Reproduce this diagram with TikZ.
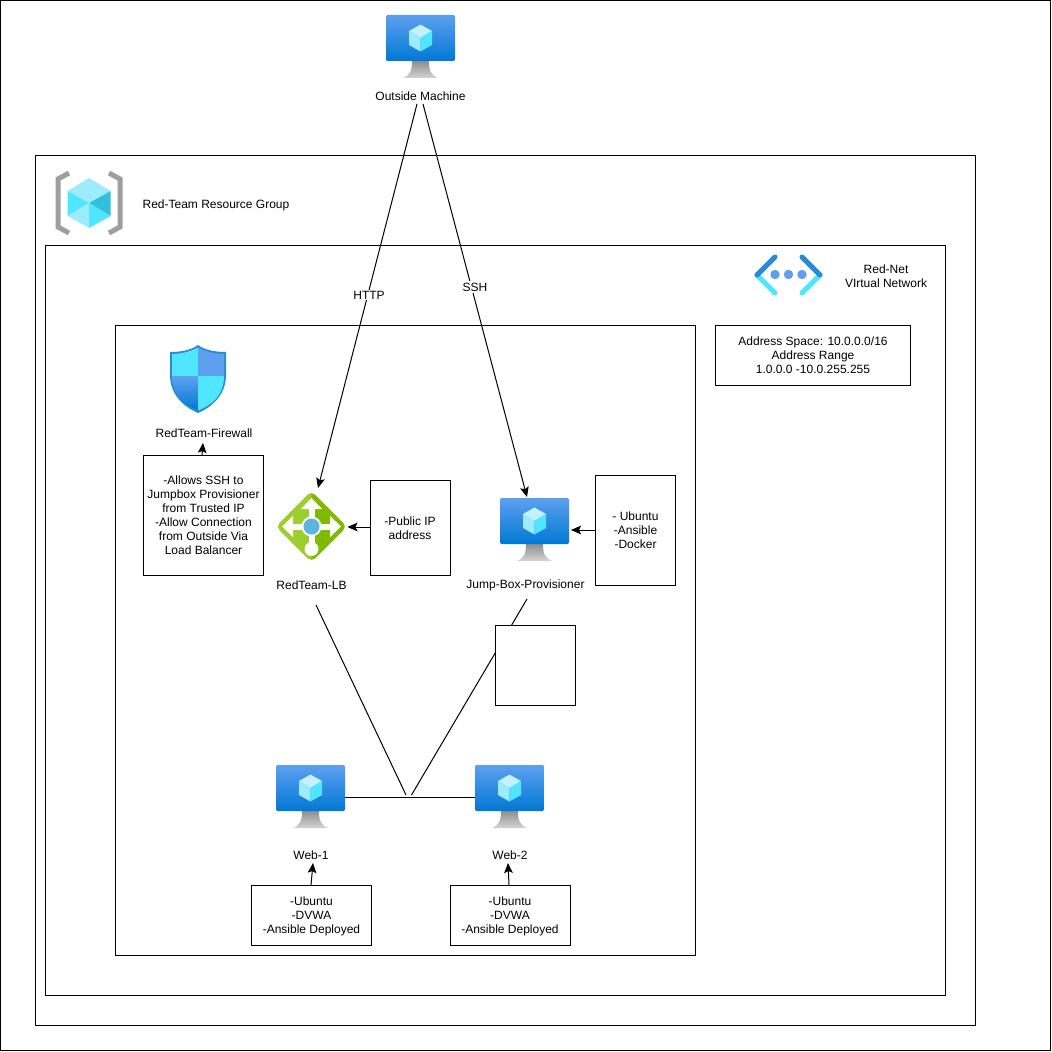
\documentclass[tikz,border=0pt]{standalone}
\usepackage{fontspec}
\setmainfont{Liberation Sans}
\usetikzlibrary{arrows.meta}
\definecolor{azA}{HTML}{5EA0EF}
\definecolor{azB}{HTML}{0078D4}
\definecolor{cubeA}{HTML}{C3F1FF}
\definecolor{cubeB}{HTML}{9CEBFF}
\definecolor{cubeC}{HTML}{50E6FF}
\definecolor{cubeD}{HTML}{32BEDD}
\definecolor{standA}{HTML}{8E8E8E}
\definecolor{standB}{HTML}{D4D4D4}
\definecolor{lbA}{HTML}{9BCF2E}
\definecolor{lbB}{HTML}{7FBA00}
\definecolor{lbC}{HTML}{5BB5DC}
\newcommand{\nudged}[2]{\raisebox{-#1}[\height][\depth]{\begin{tabular}{@{}c@{}}#2\end{tabular}}}
\tikzset{
  x=0.75pt,y=-0.75pt,
  every node/.style={font=\fontsize{9}{10.5}\selectfont,align=center,inner sep=0pt,outer sep=0pt},
  frame/.style={draw=black,fill=white,line width=0.75pt,anchor=north west,minimum width=0pt},
  link/.style={draw=black,line width=0.75pt},
  arrow/.style={link,-{Stealth[length=7.5pt,width=6.5pt,inset=1.5pt]}},
  edgelabel/.style={fill=white,inner xsep=0.5pt,inner ysep=1pt},
  iconbox/.style={minimum width=52pt,minimum height=47pt,anchor=north west},
  pics/monitor/.style={code={
    \shade[top color=standA,bottom color=standB] (26,46) .. controls (26,56) and (24,60) .. (17,63) -- (52,63) .. controls (45,60) and (43,56) .. (43,46) -- cycle;
    \shade[top color=azA,bottom color=azB,rounded corners=1pt] (0,0) rectangle (69,46);
    \fill[cubeA] (34.5,9.5) -- (46,16) -- (34.5,23) -- (23,16) -- cycle;
    \fill[cubeB] (23,16) -- (34.5,23) -- (34.5,36.5) -- (23,30) -- cycle;
    \fill[cubeC] (46,16) -- (34.5,23) -- (34.5,36.5) -- (46,30) -- cycle;
  }},
}
\begin{document}
\begin{tikzpicture}
\useasboundingbox (0,0) rectangle (1052,1052);
\fill[white] (0,0) rectangle (1052,1052);

% frames
\draw[link] (0.5,0.5) rectangle (1050.5,1050.5);
\node[frame,minimum width=705pt,minimum height=652.5pt] (group) at (35.5,155.5) {};
\node[frame,minimum width=675pt,minimum height=562.5pt] (vnet) at (45.5,245.5) {};
\node[frame,minimum width=435pt,minimum height=472.5pt] (subnet) at (115.5,325.5) {};
\node[frame,minimum width=146.25pt,minimum height=45pt] (addr) at (715.5,325.5) {Address Space: 10.0.0.0/16\\Address Range\\1.0.0.0 -10.0.255.255};

% resource group icon
\begin{scope}[shift={(55,171)}]
  \draw[color=black!38,line width=3.75pt] (14,2) -- (3,8) -- (3,56) -- (14,62);
  \draw[color=black!38,line width=3.75pt] (54,2) -- (65,8) -- (65,56) -- (54,62);
  \fill[cubeB] (34,7) -- (55.7,20) -- (34,32) -- (12.7,20) -- cycle;
  \fill[cubeC] (12.7,20) -- (34,32) -- (12.7,45) -- cycle;
  \fill[cubeD] (55.7,20) -- (34,32) -- (55.7,45) -- cycle;
  \fill[cubeB] (12.7,45) -- (34,32) -- (34,57) -- cycle;
  \fill[cubeC] (55.7,45) -- (34,32) -- (34,57) -- cycle;
\end{scope}
\node (grouplabel) at (216,205) {Red-Team Resource Group};

% virtual network icon
\begin{scope}[shift={(755,255)}]
  \draw[color=cubeC,line width=3.75pt,line cap=round] (2,20) -- (20,38);
  \draw[color=azB!85!white,line width=3.75pt,line cap=round] (2,20) -- (20,2);
  \draw[color=cubeC,line width=3.75pt,line cap=round] (65,20) -- (47,38);
  \draw[color=azB!85!white,line width=3.75pt,line cap=round] (65,20) -- (47,2);
  \fill[azA] (20,19.5) circle (4.7) (33.5,19.5) circle (4.7) (47,19.5) circle (4.7);
\end{scope}
\node (vnetlabel) at (886,276) {Red-Net\\VIrtual Network};

% firewall icon
\begin{scope}[shift={(170,345)}]
  \path[fill=azB!85!white] (0,7) .. controls (8,7) and (20,6) .. (28,0) .. controls (36,6) and (48,7) .. (56,7) -- (56,30) .. controls (56,50) and (42,62) .. (28,68) .. controls (14,62) and (0,50) .. (0,30) -- cycle;
  \fill[cubeC] (2,9) .. controls (10,9) and (20,7) .. (28,2.5) -- (28,31) -- (2,31) -- cycle;
  \fill[azA] (28,2.5) .. controls (36,7) and (46,9) .. (54,9) -- (54,31) -- (28,31) -- cycle;
  \shade[top color=azA,bottom color=azB] (2,31) -- (28,31) -- (28,65.5) .. controls (14,60) and (2,50) .. (2,31) -- cycle;
  \fill[cubeC] (28,31) -- (54,31) .. controls (54,50) and (42,60) .. (28,65.5) -- cycle;
\end{scope}
\node (fwlabel) at (204,433) {RedTeam-Firewall};
\node[frame,minimum width=90pt,minimum height=90pt] (fwbox) at (143.5,455.5) {\nudged{0.9pt}{-Allows SSH to\\Jumpbox Provisioner\\from Trusted IP\\-Allow Connection\\from Outside Via\\Load Balancer}};

% load balancer icon
\fill[lbB,rounded corners=4pt] (311.5,491) -- (347,526.5) -- (311.5,562) -- (276,526.5) -- cycle;
\begin{scope}
  \clip (311.5,485) -- (270,526.5) -- (311.5,568) -- cycle;
  \fill[lbA,rounded corners=4pt] (311.5,491) -- (347,526.5) -- (311.5,562) -- (276,526.5) -- cycle;
\end{scope}
\draw[white,line width=4.5pt] (311.5,505) -- (311.5,546);
\draw[white,line width=4.5pt] (288,526.5) -- (335,526.5);
\fill[white] (311.5,498) -- (322,509) -- (301,509) -- cycle;
\fill[white] (282,526.5) -- (293,516) -- (293,537) -- cycle;
\fill[white] (341,526.5) -- (330,516) -- (330,537) -- cycle;
\fill[white] (311.5,549) circle (7);
\fill[white] (311.5,526.5) circle (10);
\fill[lbC] (311.5,526.5) circle (8);
\node (lbicon) [minimum width=53pt,minimum height=53pt] at (311.5,526.5) {};
\node (lblabel) at (311.5,585) {RedTeam-LB};
\node[frame,minimum width=60pt,minimum height=71.25pt] (ipbox) at (370,480.5) {-Public IP\\address};

% monitors
\pic at (386,15) {monitor};
\node (outicon) [iconbox] at (386,15) {};
\node (outlabel) at (420.5,96) {Outside Machine};
\pic at (500,498) {monitor};
\node (jumpicon) [iconbox] at (500,498) {};
\node (jumplabel) at (525.5,585) {Jump-Box-Provisioner};
\node[frame,minimum width=60pt,minimum height=82.5pt] (jumpbox) at (595.5,475.5) {- Ubuntu\\-Ansible\\-Docker};
\pic at (276,765) {monitor};
\node (web1icon) [iconbox] at (276,765) {};
\node (web1label) at (311,855.5) {Web-1};
\node[frame,minimum width=90pt,minimum height=45pt] (web1box) at (251.5,885.5) {\nudged{1.2pt}{-Ubuntu\\-DVWA\\-Ansible Deployed}};
\pic at (475,765) {monitor};
\node (web2icon) [iconbox] at (475,765) {};
\node (web2label) at (510,855.5) {Web-2};
\node[frame,minimum width=90pt,minimum height=45pt] (web2box) at (450,885.5) {\nudged{1.2pt}{-Ubuntu\\-DVWA\\-Ansible Deployed}};

% connectors
\coordinate (outL) at (417,104);
\coordinate (outR) at (423,104);
\coordinate (lbT) at (318,488);
\coordinate (jumpT) at (527,497);
\draw[arrow] (outL) -- (lbT);
\draw[arrow] (outR) -- (jumpT);
\node[edgelabel] (http) at (369,295) {HTTP};
\node[edgelabel] (ssh) at (475,287) {SSH};
\coordinate (fwS) at (202,455);
\coordinate (fwT) at (203,443);
\coordinate (ipS) at (370,527);
\coordinate (lbR) at (347.5,527);
\coordinate (jpS) at (595.5,530);
\coordinate (jumpR) at (571,530);
\coordinate (w1S) at (311,885);
\coordinate (w1T) at (313,863);
\coordinate (w2S) at (509,885);
\coordinate (w2T) at (508,863);
\draw[arrow] (fwS) -- (fwT);
\draw[arrow] (ipS) -- (lbR);
\draw[arrow] (jpS) -- (jumpR);
\draw[arrow] (w1S) -- (w1T);
\draw[arrow] (w2S) -- (w2T);

\coordinate (lbB) at (316,605);
\coordinate (jumpB) at (527,599);
\coordinate (j1) at (406,795);
\coordinate (j2) at (411.5,795);
\coordinate (h1) at (345,797.5);
\coordinate (h2) at (475,797.5);
\draw[link] (lbB) -- (j1);
\draw[link] (jumpB) -- (j2);
\draw[link] (h1) -- (h2);
\node[frame,minimum width=60pt,minimum height=60pt] (blank) at (495.5,625.5) {};
\end{tikzpicture}
\end{document}
